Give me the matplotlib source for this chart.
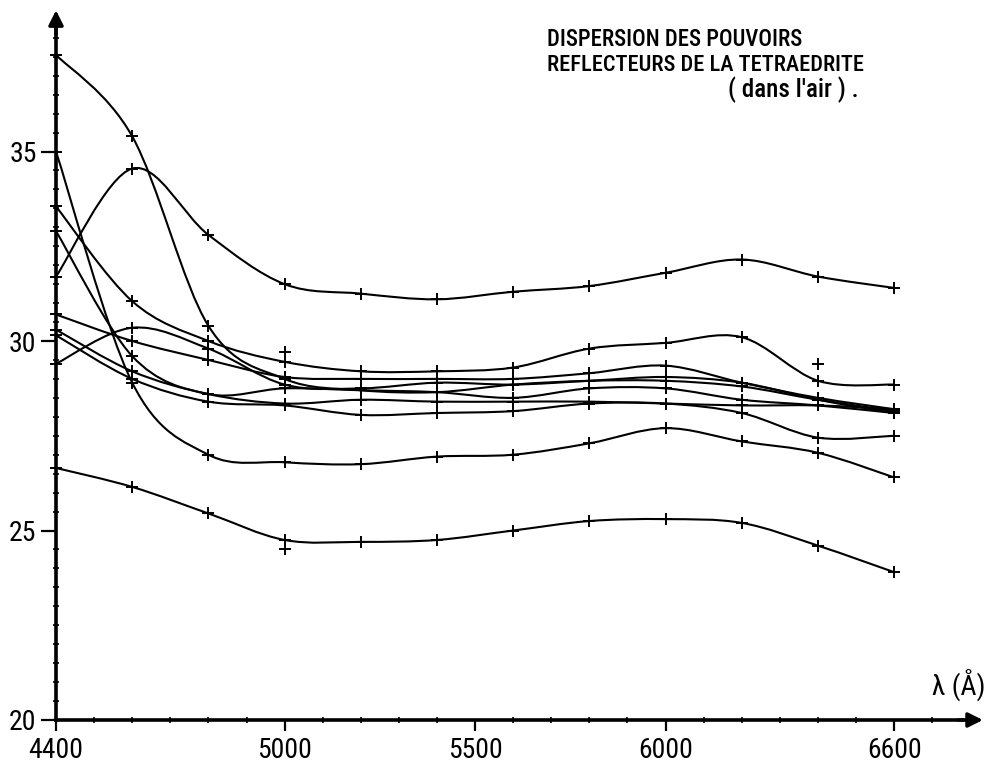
import numpy as np
import matplotlib
matplotlib.use("Agg")
import matplotlib.pyplot as plt
from matplotlib.path import Path
from matplotlib.patches import PathPatch

# ---------------------------------------------------------------------------
# Data: reflectance (%) vs wavelength (Å)
# ---------------------------------------------------------------------------
wavelengths = [4400, 4600, 4800, 5000, 5200, 5400, 5600, 5800, 6000, 6200, 6400, 6600]

curve_a = [37.55, 35.4, 30.4, 29.0, 28.7, 28.65, 28.85, 28.95, 28.95, 28.8, 28.45, 28.15]
curve_b = [35.0, 28.9, 27.0, 26.8, 26.75, 26.95, 27.0, 27.3, 27.7, 27.35, 27.05, 26.4]
curve_c = [33.55, 31.05, 30.0, 29.45, 29.2, 29.2, 29.3, 29.8, 29.95, 30.1, 28.95, 28.85]
curve_d = [32.9, 29.6, 28.6, 28.75, 28.7, 28.65, 28.5, 28.75, 28.75, 28.45, 28.3, 28.1]
curve_e = [31.7, 34.55, 32.8, 31.5, 31.25, 31.1, 31.3, 31.45, 31.8, 32.15, 31.7, 31.4]
curve_f = [30.7, 30.0, 29.5, 29.05, 29.0, 29.0, 29.0, 29.15, 29.35, 28.9, 28.5, 28.2]
curve_g = [30.3, 29.2, 28.6, 28.35, 28.45, 28.4, 28.4, 28.4, 28.35, 28.3, 28.3, 28.2]
curve_h = [30.15, 29.0, 28.4, 28.3, 28.05, 28.1, 28.15, 28.35, 28.35, 28.1, 27.45, 27.5]
curve_i = [29.4, 30.35, 29.8, 28.85, 28.75, 28.9, 28.85, 28.95, 29.05, 28.9, 28.45, 28.1]
curve_j = [26.65, 26.15, 25.45, 24.75, 24.7, 24.75, 25.0, 25.25, 25.3, 25.2, 24.6, 23.9]

# measured points lying off their drawn curve
stray_wl = [5000, 6400, 5000]
stray_val = [29.72, 29.4, 24.5]

x_ticks = [4400, 5000, 5500, 6000, 6600]
y_ticks = [20, 25, 30, 35]

title_lines = ["DISPERSION DES POUVOIRS", "REFLECTEURS DE LA TETRAEDRITE", "( dans l'air ) ."]

FONT = ["Roboto Condensed", "Liberation Sans Narrow", "DejaVu Sans"]

# pixel geometry of the scan (995 x 762)
PX_PER_A = 0.381     # px per Å
PX_PER_PCT = 37.9    # px per % reflectance
X0_PX, Y0_PX = 56, 720   # pixel of (4400 Å, 20 %)


def smooth_path(xs, ys):
    """Catmull-Rom curve through the points, as a cubic Bezier path."""
    pts = np.column_stack([xs, ys]).astype(float)
    verts = [pts[0]]
    codes = [Path.MOVETO]
    n = len(pts)
    for i in range(n - 1):
        p0 = pts[max(i - 1, 0)]
        p1, p2 = pts[i], pts[i + 1]
        p3 = pts[min(i + 2, n - 1)]
        verts += [p1 + (p2 - p0) / 6, p2 - (p3 - p1) / 6, p2]
        codes += [Path.CURVE4] * 3
    return Path(verts, codes)


fig = plt.figure(figsize=(9.95, 7.62), dpi=100)
ax = fig.add_axes([0, 0, 1, 1])
ax.set_xlim(4400 - X0_PX / PX_PER_A, 4400 + (995 - X0_PX) / PX_PER_A)
ax.set_ylim(20 - (762 - Y0_PX) / PX_PER_PCT, 20 + Y0_PX / PX_PER_PCT)

for curve in [curve_a, curve_b, curve_c, curve_d, curve_e,
              curve_f, curve_g, curve_h, curve_i, curve_j]:
    ax.add_patch(PathPatch(smooth_path(wavelengths, curve), fill=False,
                           lw=1.5, ec="black", capstyle="round"))
    ax.plot(wavelengths, curve, ls="none", marker="+", ms=8, mew=1.4, color="black")
ax.plot(stray_wl, stray_val, ls="none", marker="+", ms=8, mew=1.4, color="black")

# --- axes drawn as in the scan ---
for side in ["top", "right"]:
    ax.spines[side].set_visible(False)
ax.spines["left"].set_position(("data", 4400))
ax.spines["bottom"].set_position(("data", 20))
ax.spines["left"].set_bounds(20, 38.4)
ax.spines["bottom"].set_bounds(4400, 6780)
for side in ["left", "bottom"]:
    ax.spines[side].set_linewidth(2.6)
ax.annotate("", xy=(4400, 38.8), xytext=(4400, 38.0),
            arrowprops=dict(arrowstyle="-|>", lw=2.4, color="black", mutation_scale=22))
ax.annotate("", xy=(6840, 20), xytext=(6760, 20),
            arrowprops=dict(arrowstyle="-|>", lw=2.4, color="black", mutation_scale=22))

ax.set_xticks(x_ticks)
ax.set_xticks(np.arange(4400, 6801, 100), minor=True)
ax.set_yticks(y_ticks)
ax.set_yticks(np.arange(20, 38.6, 0.5), minor=True)
ax.tick_params(axis="x", which="major", direction="out", length=8, width=1.6, pad=4,
               labelsize=20)
ax.tick_params(axis="y", which="major", direction="out", length=11, width=1.6, pad=3,
               labelsize=20)
ax.tick_params(which="minor", direction="inout", length=5, width=1.2)
for lab in ax.get_xticklabels() + ax.get_yticklabels():
    lab.set_family(FONT)

ax.text(6840, 20.5, "λ (Å)", family=FONT, fontsize=20, ha="right", va="bottom")

# title block, scaled so each line spans the width it has in the scan
title_pos = [(547, 40, 256), (547, 65, 318), (728, 90, 133)]   # x px, y px, width px
fig.canvas.draw()
renderer = fig.canvas.get_renderer()
for line, (xp, yp, wp) in zip(title_lines, title_pos):
    t = fig.text(xp / 995, 1 - yp / 762, line, family=FONT, fontsize=15,
                 weight="medium", va="center", ha="left")
    w = t.get_window_extent(renderer).width
    t.set_fontsize(min(15 * wp / w, 18))

fig.savefig("out.png", dpi=100)
